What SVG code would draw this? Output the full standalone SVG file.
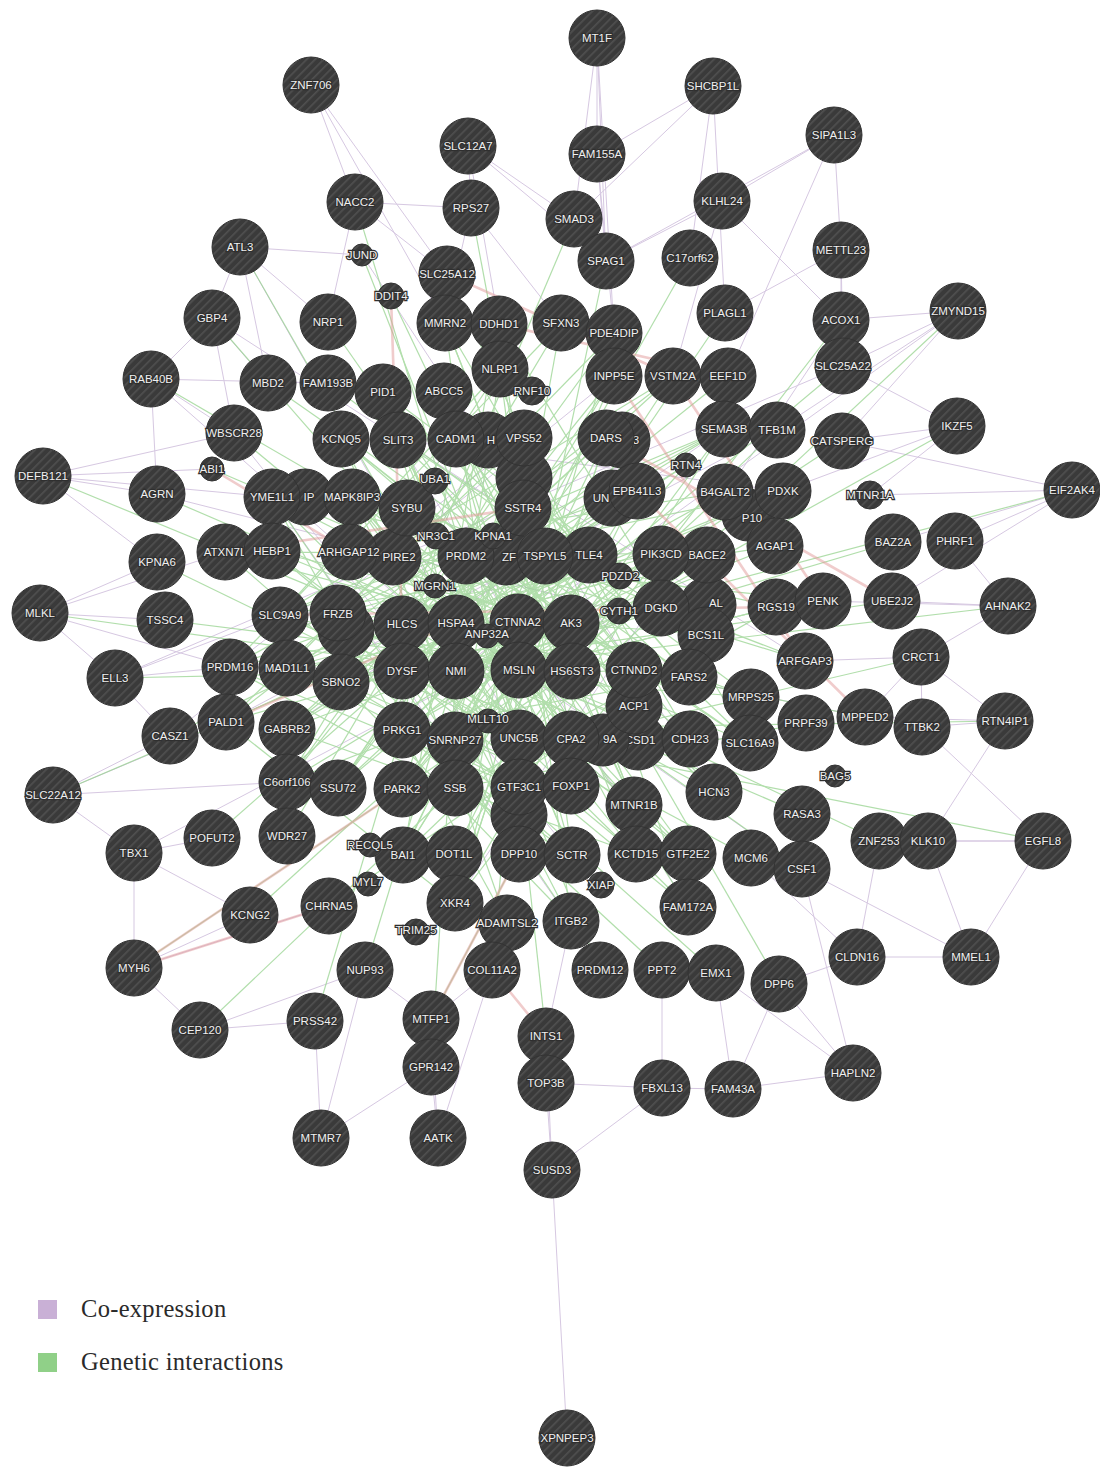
<svg xmlns="http://www.w3.org/2000/svg" width="1100" height="1467" viewBox="0 0 1100 1467">
<defs>
<pattern id="h" width="6" height="6" patternUnits="userSpaceOnUse" patternTransform="rotate(45)"><rect width="6" height="6" fill="#3a3a3a"/><rect width="1.6" height="6" fill="#505050"/></pattern>
<style>
.n circle{fill:url(#h);stroke:#333;stroke-width:1}
.n text{font-family:"Liberation Sans",Arial,sans-serif;font-size:11.5px;fill:#f0f0f0;stroke:#2f2f2f;stroke-width:2.4px;paint-order:stroke;text-anchor:middle;dominant-baseline:central}
.g{stroke:#98d490;stroke-width:1.2;opacity:.75}
.c{stroke:#c9b6d8;stroke-width:1;opacity:.75}
.r{stroke:#e39a9a;stroke-width:2.6;opacity:.5}
.lg{font-family:"Liberation Serif","Times New Roman",serif;font-size:24.5px;letter-spacing:.3px;fill:#2a2a2a}
</style>
</defs>
<rect width="1100" height="1467" fill="#fff"/>
<g id="connectors">
<g class="c">
<line x1="597" y1="38" x2="597" y2="154"/><line x1="597" y1="38" x2="574" y2="219"/><line x1="597" y1="38" x2="606" y2="261"/><line x1="597" y1="38" x2="614" y2="333"/>
<line x1="311" y1="85" x2="355" y2="202"/><line x1="311" y1="85" x2="447" y2="274"/><line x1="311" y1="85" x2="445" y2="323"/>
<line x1="713" y1="86" x2="574" y2="219"/><line x1="713" y1="86" x2="690" y2="258"/><line x1="713" y1="86" x2="597" y2="154"/><line x1="713" y1="86" x2="725" y2="313"/>
<line x1="834" y1="135" x2="722" y2="201"/><line x1="834" y1="135" x2="606" y2="261"/><line x1="834" y1="135" x2="728" y2="376"/><line x1="834" y1="135" x2="841" y2="250"/>
<line x1="468" y1="146" x2="471" y2="208"/><line x1="468" y1="146" x2="574" y2="219"/><line x1="468" y1="146" x2="606" y2="261"/><line x1="468" y1="146" x2="499" y2="324"/>
<line x1="597" y1="154" x2="606" y2="261"/><line x1="597" y1="154" x2="614" y2="333"/>
<line x1="355" y1="202" x2="471" y2="208"/><line x1="355" y1="202" x2="447" y2="274"/><line x1="355" y1="202" x2="328" y2="322"/>
<line x1="471" y1="208" x2="561" y2="323"/><line x1="471" y1="208" x2="445" y2="323"/>
<line x1="722" y1="201" x2="606" y2="261"/><line x1="722" y1="201" x2="673" y2="376"/><line x1="722" y1="201" x2="841" y2="320"/>
<line x1="240" y1="247" x2="362" y2="255"/><line x1="240" y1="247" x2="328" y2="322"/><line x1="240" y1="247" x2="212" y2="318"/><line x1="240" y1="247" x2="268" y2="383"/>
<line x1="841" y1="250" x2="841" y2="320"/><line x1="841" y1="250" x2="843" y2="366"/><line x1="841" y1="250" x2="725" y2="313"/>
<line x1="958" y1="311" x2="841" y2="320"/><line x1="958" y1="311" x2="843" y2="366"/><line x1="958" y1="311" x2="842" y2="441"/><line x1="958" y1="311" x2="777" y2="430"/>
<line x1="212" y1="318" x2="151" y2="379"/><line x1="212" y1="318" x2="268" y2="383"/><line x1="212" y1="318" x2="234" y2="433"/>
<line x1="151" y1="379" x2="234" y2="433"/><line x1="151" y1="379" x2="157" y2="494"/><line x1="151" y1="379" x2="328" y2="383"/>
<line x1="43" y1="476" x2="157" y2="494"/><line x1="43" y1="476" x2="212" y2="469"/><line x1="43" y1="476" x2="157" y2="562"/><line x1="43" y1="476" x2="234" y2="433"/><line x1="43" y1="476" x2="272" y2="497"/>
<line x1="957" y1="426" x2="843" y2="366"/><line x1="957" y1="426" x2="842" y2="441"/><line x1="957" y1="426" x2="870" y2="495"/><line x1="957" y1="426" x2="783" y2="491"/>
<line x1="1072" y1="490" x2="870" y2="495"/><line x1="1072" y1="490" x2="955" y2="541"/><line x1="1072" y1="490" x2="842" y2="441"/><line x1="1072" y1="490" x2="893" y2="542"/><line x1="1072" y1="490" x2="892" y2="601"/>
<line x1="40" y1="613" x2="157" y2="562"/><line x1="40" y1="613" x2="165" y2="620"/><line x1="40" y1="613" x2="225" y2="552"/><line x1="40" y1="613" x2="230" y2="667"/><line x1="40" y1="613" x2="115" y2="678"/>
<line x1="1008" y1="606" x2="892" y2="601"/><line x1="1008" y1="606" x2="955" y2="541"/><line x1="1008" y1="606" x2="921" y2="657"/><line x1="1008" y1="606" x2="823" y2="601"/>
<line x1="115" y1="678" x2="230" y2="667"/><line x1="115" y1="678" x2="170" y2="736"/><line x1="115" y1="678" x2="280" y2="615"/>
<line x1="921" y1="657" x2="865" y2="717"/><line x1="921" y1="657" x2="805" y2="661"/><line x1="921" y1="657" x2="922" y2="727"/>
<line x1="1005" y1="721" x2="922" y2="727"/><line x1="1005" y1="721" x2="865" y2="717"/><line x1="1005" y1="721" x2="921" y2="657"/><line x1="1005" y1="721" x2="928" y2="841"/>
<line x1="53" y1="795" x2="170" y2="736"/><line x1="53" y1="795" x2="134" y2="853"/><line x1="53" y1="795" x2="226" y2="722"/><line x1="53" y1="795" x2="287" y2="782"/>
<line x1="134" y1="853" x2="212" y2="838"/><line x1="134" y1="853" x2="250" y2="915"/><line x1="134" y1="853" x2="134" y2="968"/>
<line x1="1043" y1="841" x2="928" y2="841"/><line x1="1043" y1="841" x2="879" y2="841"/><line x1="1043" y1="841" x2="971" y2="957"/><line x1="1043" y1="841" x2="922" y2="727"/>
<line x1="134" y1="968" x2="250" y2="915"/><line x1="134" y1="968" x2="200" y2="1030"/><line x1="134" y1="968" x2="329" y2="906"/>
<line x1="971" y1="957" x2="857" y2="957"/><line x1="971" y1="957" x2="928" y2="841"/><line x1="971" y1="957" x2="802" y2="869"/>
<line x1="200" y1="1030" x2="315" y2="1021"/><line x1="200" y1="1030" x2="365" y2="970"/>
<line x1="857" y1="957" x2="779" y2="984"/><line x1="857" y1="957" x2="879" y2="841"/><line x1="857" y1="957" x2="751" y2="858"/>
<line x1="853" y1="1073" x2="779" y2="984"/><line x1="853" y1="1073" x2="733" y2="1089"/><line x1="853" y1="1073" x2="716" y2="973"/><line x1="853" y1="1073" x2="802" y2="869"/>
<line x1="321" y1="1138" x2="315" y2="1021"/><line x1="321" y1="1138" x2="431" y2="1067"/><line x1="321" y1="1138" x2="365" y2="970"/>
<line x1="438" y1="1138" x2="431" y2="1067"/><line x1="438" y1="1138" x2="431" y2="1019"/><line x1="438" y1="1138" x2="492" y2="970"/>
<line x1="552" y1="1170" x2="546" y2="1083"/><line x1="552" y1="1170" x2="546" y2="1036"/><line x1="552" y1="1170" x2="662" y2="1088"/><line x1="552" y1="1170" x2="567" y2="1438"/>
<line x1="662" y1="1088" x2="662" y2="970"/><line x1="662" y1="1088" x2="733" y2="1089"/><line x1="662" y1="1088" x2="546" y2="1083"/>
<line x1="733" y1="1089" x2="716" y2="973"/><line x1="733" y1="1089" x2="779" y2="984"/>
<line x1="546" y1="1083" x2="546" y2="1036"/><line x1="546" y1="1036" x2="571" y2="921"/><line x1="431" y1="1067" x2="431" y2="1019"/><line x1="431" y1="1019" x2="492" y2="970"/><line x1="431" y1="1019" x2="365" y2="970"/>
<line x1="398" y1="440" x2="783" y2="491"/><line x1="456" y1="439" x2="805" y2="661"/><line x1="524" y1="438" x2="230" y2="667"/><line x1="272" y1="497" x2="571" y2="921"/>
<line x1="350" y1="552" x2="802" y2="869"/><line x1="402" y1="624" x2="865" y2="717"/><line x1="456" y1="671" x2="958" y2="311"/><line x1="519" y1="738" x2="240" y2="247"/>
<line x1="571" y1="623" x2="134" y2="853"/><line x1="661" y1="608" x2="212" y2="318"/><line x1="287" y1="729" x2="724" y2="429"/><line x1="455" y1="903" x2="841" y2="320"/>
<line x1="688" y1="907" x2="398" y2="440"/><line x1="706" y1="633" x2="157" y2="494"/><line x1="634" y1="805" x2="151" y2="379"/><line x1="226" y1="722" x2="777" y2="430"/>
<line x1="170" y1="736" x2="614" y2="376"/><line x1="115" y1="678" x2="843" y2="366"/><line x1="714" y1="792" x2="362" y2="255"/><line x1="572" y1="855" x2="234" y2="433"/>
</g>
<g class="g">
<line x1="398" y1="440" x2="661" y2="608"/><line x1="456" y1="439" x2="402" y2="730"/><line x1="524" y1="438" x2="455" y2="740"/><line x1="606" y1="438" x2="287" y2="729"/>
<line x1="724" y1="429" x2="402" y2="624"/><line x1="341" y1="439" x2="690" y2="739"/><line x1="500" y1="369" x2="571" y2="921"/><line x1="444" y1="391" x2="634" y2="805"/>
<line x1="383" y1="392" x2="750" y2="743"/><line x1="614" y1="376" x2="338" y2="788"/><line x1="673" y1="376" x2="226" y2="722"/><line x1="445" y1="323" x2="519" y2="854"/>
<line x1="499" y1="324" x2="403" y2="855"/><line x1="561" y1="323" x2="287" y2="782"/><line x1="614" y1="333" x2="455" y2="903"/><line x1="272" y1="497" x2="776" y2="607"/>
<line x1="352" y1="497" x2="688" y2="854"/><line x1="407" y1="508" x2="805" y2="661"/><line x1="523" y1="508" x2="230" y2="667"/><line x1="637" y1="491" x2="280" y2="615"/>
<line x1="725" y1="492" x2="350" y2="552"/><line x1="783" y1="491" x2="466" y2="556"/><line x1="435" y1="479" x2="714" y2="792"/><line x1="686" y1="465" x2="341" y2="682"/>
<line x1="225" y1="552" x2="689" y2="677"/><line x1="272" y1="551" x2="636" y2="854"/><line x1="350" y1="552" x2="751" y2="697"/><line x1="466" y1="556" x2="571" y2="739"/>
<line x1="545" y1="556" x2="287" y2="668"/><line x1="589" y1="555" x2="402" y2="789"/><line x1="661" y1="554" x2="225" y2="552"/><line x1="707" y1="555" x2="456" y2="671"/>
<line x1="775" y1="546" x2="338" y2="614"/><line x1="280" y1="615" x2="724" y2="429"/><line x1="338" y1="614" x2="606" y2="438"/><line x1="402" y1="624" x2="673" y2="376"/>
<line x1="456" y1="623" x2="783" y2="491"/><line x1="518" y1="622" x2="272" y2="497"/><line x1="571" y1="623" x2="341" y2="439"/><line x1="661" y1="608" x2="403" y2="855"/>
<line x1="776" y1="607" x2="455" y2="788"/><line x1="706" y1="633" x2="383" y2="392"/><line x1="230" y1="667" x2="572" y2="855"/><line x1="287" y1="668" x2="614" y2="333"/>
<line x1="341" y1="682" x2="637" y2="491"/><line x1="402" y1="671" x2="725" y2="492"/><line x1="456" y1="671" x2="500" y2="369"/><line x1="519" y1="670" x2="280" y2="615"/>
<line x1="572" y1="671" x2="350" y2="552"/><line x1="634" y1="670" x2="398" y2="440"/><line x1="689" y1="677" x2="444" y2="391"/><line x1="805" y1="661" x2="466" y2="556"/>
<line x1="226" y1="722" x2="524" y2="438"/><line x1="287" y1="729" x2="571" y2="623"/><line x1="402" y1="730" x2="707" y2="555"/><line x1="455" y1="740" x2="614" y2="376"/>
<line x1="519" y1="738" x2="352" y2="497"/><line x1="571" y1="739" x2="407" y2="508"/><line x1="690" y1="739" x2="456" y2="439"/><line x1="750" y1="743" x2="272" y2="551"/>
<line x1="751" y1="697" x2="402" y2="671"/><line x1="287" y1="782" x2="661" y2="554"/><line x1="338" y1="788" x2="589" y2="555"/><line x1="402" y1="789" x2="686" y2="465"/>
<line x1="455" y1="788" x2="724" y2="429"/><line x1="519" y1="787" x2="341" y2="682"/><line x1="571" y1="786" x2="287" y2="668"/><line x1="634" y1="805" x2="445" y2="323"/>
<line x1="714" y1="792" x2="402" y2="624"/><line x1="403" y1="855" x2="545" y2="556"/><line x1="454" y1="854" x2="637" y2="491"/><line x1="519" y1="854" x2="341" y2="439"/>
<line x1="572" y1="855" x2="499" y2="324"/><line x1="636" y1="854" x2="352" y2="497"/><line x1="688" y1="854" x2="518" y2="622"/><line x1="455" y1="903" x2="606" y2="438"/>
<line x1="507" y1="923" x2="272" y2="497"/><line x1="571" y1="921" x2="402" y2="671"/><line x1="688" y1="907" x2="466" y2="556"/><line x1="234" y1="433" x2="519" y2="670"/>
<line x1="212" y1="469" x2="571" y2="623"/><line x1="157" y1="494" x2="456" y2="623"/><line x1="157" y1="562" x2="519" y2="738"/><line x1="165" y1="620" x2="572" y2="671"/>
<line x1="115" y1="678" x2="456" y2="671"/><line x1="170" y1="736" x2="402" y2="624"/><line x1="212" y1="838" x2="456" y2="623"/><line x1="287" y1="836" x2="524" y2="438"/>
<line x1="250" y1="915" x2="519" y2="670"/><line x1="329" y1="906" x2="571" y2="739"/><line x1="365" y1="970" x2="456" y2="671"/><line x1="492" y1="970" x2="519" y2="670"/>
<line x1="600" y1="970" x2="456" y2="623"/><line x1="662" y1="970" x2="402" y2="730"/><line x1="716" y1="973" x2="455" y2="740"/><line x1="779" y1="984" x2="571" y2="623"/>
<line x1="546" y1="1036" x2="519" y2="787"/><line x1="431" y1="1019" x2="519" y2="854"/><line x1="431" y1="1067" x2="456" y2="671"/><line x1="315" y1="1021" x2="402" y2="730"/>
<line x1="134" y1="968" x2="402" y2="789"/><line x1="200" y1="1030" x2="455" y2="788"/><line x1="802" y1="869" x2="456" y2="623"/><line x1="751" y1="858" x2="402" y2="671"/>
<line x1="879" y1="841" x2="519" y2="670"/><line x1="802" y1="814" x2="338" y2="614"/><line x1="865" y1="717" x2="402" y2="624"/><line x1="806" y1="723" x2="455" y2="788"/>
<line x1="921" y1="657" x2="571" y2="739"/><line x1="892" y1="601" x2="402" y2="671"/><line x1="823" y1="601" x2="350" y2="552"/><line x1="893" y1="542" x2="456" y2="671"/>
<line x1="842" y1="441" x2="402" y2="730"/><line x1="777" y1="430" x2="455" y2="740"/><line x1="841" y1="320" x2="519" y2="738"/><line x1="843" y1="366" x2="338" y2="788"/>
<line x1="728" y1="376" x2="287" y2="729"/><line x1="725" y1="313" x2="402" y2="789"/><line x1="690" y1="258" x2="456" y2="671"/><line x1="606" y1="261" x2="519" y2="670"/>
<line x1="574" y1="219" x2="402" y2="624"/><line x1="471" y1="208" x2="571" y2="739"/><line x1="447" y1="274" x2="634" y2="670"/><line x1="328" y1="322" x2="572" y2="671"/>
<line x1="268" y1="383" x2="689" y2="677"/><line x1="328" y1="383" x2="751" y2="697"/><line x1="355" y1="202" x2="519" y2="738"/><line x1="362" y1="255" x2="571" y2="786"/>
<line x1="391" y1="296" x2="634" y2="805"/><line x1="240" y1="247" x2="456" y2="623"/><line x1="212" y1="318" x2="519" y2="670"/><line x1="151" y1="379" x2="571" y2="623"/>
<line x1="43" y1="476" x2="402" y2="624"/><line x1="40" y1="613" x2="456" y2="671"/><line x1="1072" y1="490" x2="571" y2="623"/><line x1="1008" y1="606" x2="456" y2="671"/>
<line x1="957" y1="426" x2="519" y2="670"/><line x1="958" y1="311" x2="572" y2="671"/><line x1="1005" y1="721" x2="402" y2="730"/><line x1="53" y1="795" x2="456" y2="623"/>
<line x1="1043" y1="841" x2="519" y2="738"/><line x1="500" y1="369" x2="280" y2="615"/><line x1="561" y1="323" x2="455" y2="903"/><line x1="445" y1="323" x2="690" y2="739"/>
<line x1="383" y1="392" x2="572" y2="855"/><line x1="606" y1="438" x2="402" y2="855"/><line x1="524" y1="438" x2="688" y2="907"/><line x1="456" y1="439" x2="572" y2="855"/>
<line x1="341" y1="439" x2="519" y2="787"/><line x1="398" y1="440" x2="571" y2="786"/><line x1="456" y1="439" x2="634" y2="670"/><line x1="524" y1="438" x2="402" y2="789"/>
<line x1="606" y1="438" x2="455" y2="903"/><line x1="724" y1="429" x2="287" y2="668"/><line x1="500" y1="369" x2="338" y2="614"/><line x1="444" y1="391" x2="689" y2="677"/>
<line x1="383" y1="392" x2="519" y2="854"/><line x1="614" y1="376" x2="402" y2="730"/><line x1="673" y1="376" x2="280" y2="615"/><line x1="445" y1="323" x2="634" y2="805"/>
<line x1="499" y1="324" x2="750" y2="743"/><line x1="561" y1="323" x2="230" y2="667"/><line x1="614" y1="333" x2="287" y2="782"/><line x1="272" y1="497" x2="688" y2="907"/>
<line x1="352" y1="497" x2="571" y2="921"/><line x1="407" y1="508" x2="714" y2="792"/><line x1="523" y1="508" x2="338" y2="788"/><line x1="637" y1="491" x2="402" y2="671"/>
<line x1="725" y1="492" x2="455" y2="740"/><line x1="783" y1="491" x2="341" y2="682"/><line x1="435" y1="479" x2="636" y2="854"/><line x1="686" y1="465" x2="287" y2="729"/>
<line x1="225" y1="552" x2="572" y2="855"/><line x1="272" y1="551" x2="519" y2="738"/><line x1="350" y1="552" x2="689" y2="677"/><line x1="466" y1="556" x2="750" y2="743"/>
<line x1="545" y1="556" x2="338" y2="614"/><line x1="589" y1="555" x2="226" y2="722"/><line x1="661" y1="554" x2="402" y2="624"/><line x1="707" y1="555" x2="287" y2="668"/>
<line x1="775" y1="546" x2="456" y2="671"/><line x1="280" y1="615" x2="661" y2="554"/><line x1="338" y1="614" x2="724" y2="429"/><line x1="402" y1="624" x2="637" y2="491"/>
<line x1="456" y1="623" x2="707" y2="555"/><line x1="518" y1="622" x2="352" y2="497"/><line x1="571" y1="623" x2="272" y2="551"/><line x1="661" y1="608" x2="341" y2="682"/>
<line x1="776" y1="607" x2="519" y2="670"/><line x1="706" y1="633" x2="456" y2="439"/><line x1="230" y1="667" x2="545" y2="556"/><line x1="287" y1="668" x2="661" y2="608"/>
<line x1="341" y1="682" x2="571" y2="786"/><line x1="402" y1="671" x2="634" y2="805"/><line x1="456" y1="671" x2="688" y2="854"/><line x1="519" y1="670" x2="403" y2="855"/>
<line x1="572" y1="671" x2="287" y2="782"/><line x1="634" y1="670" x2="341" y2="439"/><line x1="689" y1="677" x2="402" y2="730"/><line x1="226" y1="722" x2="455" y2="903"/>
<line x1="287" y1="729" x2="636" y2="854"/><line x1="402" y1="730" x2="572" y2="855"/><line x1="455" y1="740" x2="707" y2="555"/><line x1="519" y1="738" x2="383" y2="392"/>
<line x1="571" y1="739" x2="280" y2="615"/><line x1="690" y1="739" x2="338" y2="614"/><line x1="750" y1="743" x2="407" y2="508"/><line x1="287" y1="782" x2="614" y2="376"/>
<line x1="338" y1="788" x2="606" y2="438"/><line x1="402" y1="789" x2="673" y2="376"/><line x1="455" y1="788" x2="637" y2="491"/><line x1="519" y1="787" x2="230" y2="667"/>
<line x1="571" y1="786" x2="456" y2="439"/><line x1="634" y1="805" x2="352" y2="497"/><line x1="714" y1="792" x2="466" y2="556"/><line x1="403" y1="855" x2="589" y2="555"/>
<line x1="454" y1="854" x2="724" y2="429"/><line x1="519" y1="854" x2="272" y2="497"/><line x1="572" y1="855" x2="398" y2="440"/><line x1="636" y1="854" x2="444" y2="391"/>
<line x1="688" y1="854" x2="350" y2="552"/><line x1="455" y1="903" x2="661" y2="554"/><line x1="507" y1="923" x2="402" y2="624"/><line x1="571" y1="921" x2="341" y2="682"/>
<line x1="688" y1="907" x2="402" y2="671"/><line x1="280" y1="615" x2="571" y2="739"/><line x1="338" y1="614" x2="519" y2="854"/><line x1="402" y1="624" x2="690" y2="739"/>
<line x1="456" y1="623" x2="338" y2="788"/><line x1="518" y1="622" x2="706" y2="633"/><line x1="571" y1="623" x2="226" y2="722"/><line x1="402" y1="671" x2="571" y2="623"/>
<line x1="456" y1="671" x2="661" y2="608"/><line x1="519" y1="670" x2="776" y2="607"/><line x1="572" y1="671" x2="402" y2="789"/><line x1="634" y1="670" x2="455" y2="903"/>
<line x1="287" y1="668" x2="519" y2="787"/><line x1="341" y1="682" x2="634" y2="670"/><line x1="230" y1="667" x2="456" y2="623"/><line x1="350" y1="552" x2="519" y2="670"/>
<line x1="466" y1="556" x2="402" y2="730"/><line x1="545" y1="556" x2="455" y2="788"/><line x1="589" y1="555" x2="287" y2="729"/><line x1="661" y1="554" x2="519" y2="738"/>
<line x1="407" y1="508" x2="571" y2="739"/><line x1="523" y1="508" x2="456" y2="671"/><line x1="637" y1="491" x2="402" y2="730"/>
</g>
<g class="r">
<line x1="606" y1="438" x2="892" y2="601"/><line x1="637" y1="491" x2="865" y2="717"/><line x1="673" y1="376" x2="823" y2="601"/><line x1="614" y1="376" x2="805" y2="661"/>
<line x1="391" y1="296" x2="402" y2="624"/><line x1="134" y1="968" x2="329" y2="906"/><line x1="134" y1="968" x2="402" y2="789"/><line x1="492" y1="970" x2="546" y2="1036"/>
<line x1="431" y1="1019" x2="519" y2="854"/><line x1="447" y1="274" x2="673" y2="376"/><line x1="499" y1="324" x2="728" y2="376"/><line x1="212" y1="469" x2="350" y2="552"/>
<line x1="226" y1="722" x2="456" y2="623"/><line x1="225" y1="552" x2="523" y2="508"/><line x1="280" y1="615" x2="776" y2="607"/>
</g>
</g>
<g id="nodes">
<g class="n" id="n-H"><circle cx="488" cy="440" r="28"/><text x="491" y="440">H</text></g>
<g class="n" id="n-X3"><circle cx="622" cy="440" r="28"/><text x="636" y="440">3</text></g>
<g class="n" id="n-hid1"><circle cx="524" cy="478" r="28"/></g>
<g class="n" id="n-UN"><circle cx="612" cy="498" r="28"/><text x="601" y="498">UN</text></g>
<g class="n" id="n-P10"><circle cx="748" cy="515" r="26"/><text x="752" y="518">P10</text></g>
<g class="n" id="n-IP"><circle cx="305" cy="497" r="28"/><text x="309" y="497">IP</text></g>
<g class="n" id="n-PIRE2"><circle cx="393" cy="557" r="28"/><text x="399" y="557">PIRE2</text></g>
<g class="n" id="n-ZF"><circle cx="506" cy="557" r="28"/><text x="509" y="557">ZF</text></g>
<g class="n" id="n-FRZB2"><circle cx="346" cy="630" r="28"/></g>
<g class="n" id="n-AL"><circle cx="708" cy="605" r="28"/><text x="716" y="603">AL</text></g>
<g class="n" id="n-CSD1"><circle cx="638" cy="742" r="28"/><text x="640" y="740">CSD1</text></g>
<g class="n" id="n-X9A"><circle cx="603" cy="740" r="26"/><text x="610" y="739">9A</text></g>
<g class="n" id="n-GTF3C1b"><circle cx="519" cy="815" r="28"/></g>
<g class="n" id="n-MT1F"><circle cx="597" cy="38" r="28"/><text x="597" y="38">MT1F</text></g>
<g class="n" id="n-ZNF706"><circle cx="311" cy="85" r="28"/><text x="311" y="85">ZNF706</text></g>
<g class="n" id="n-SHCBP1L"><circle cx="713" cy="86" r="28"/><text x="713" y="86">SHCBP1L</text></g>
<g class="n" id="n-SIPA1L3"><circle cx="834" cy="135" r="28"/><text x="834" y="135">SIPA1L3</text></g>
<g class="n" id="n-SLC12A7"><circle cx="468" cy="146" r="28"/><text x="468" y="146">SLC12A7</text></g>
<g class="n" id="n-FAM155A"><circle cx="597" cy="154" r="28"/><text x="597" y="154">FAM155A</text></g>
<g class="n" id="n-NACC2"><circle cx="355" cy="202" r="28"/><text x="355" y="202">NACC2</text></g>
<g class="n" id="n-RPS27"><circle cx="471" cy="208" r="28"/><text x="471" y="208">RPS27</text></g>
<g class="n" id="n-SMAD3"><circle cx="574" cy="219" r="28"/><text x="574" y="219">SMAD3</text></g>
<g class="n" id="n-KLHL24"><circle cx="722" cy="201" r="28"/><text x="722" y="201">KLHL24</text></g>
<g class="n" id="n-ATL3"><circle cx="240" cy="247" r="28"/><text x="240" y="247">ATL3</text></g>
<g class="n" id="n-SPAG1"><circle cx="606" cy="261" r="28"/><text x="606" y="261">SPAG1</text></g>
<g class="n" id="n-C17orf62"><circle cx="690" cy="258" r="28"/><text x="690" y="258">C17orf62</text></g>
<g class="n" id="n-METTL23"><circle cx="841" cy="250" r="28"/><text x="841" y="250">METTL23</text></g>
<g class="n" id="n-SLC25A12"><circle cx="447" cy="274" r="28"/><text x="447" y="274">SLC25A12</text></g>
<g class="n" id="n-GBP4"><circle cx="212" cy="318" r="28"/><text x="212" y="318">GBP4</text></g>
<g class="n" id="n-NRP1"><circle cx="328" cy="322" r="28"/><text x="328" y="322">NRP1</text></g>
<g class="n" id="n-MMRN2"><circle cx="445" cy="323" r="28"/><text x="445" y="323">MMRN2</text></g>
<g class="n" id="n-DDHD1"><circle cx="499" cy="324" r="28"/><text x="499" y="324">DDHD1</text></g>
<g class="n" id="n-SFXN3"><circle cx="561" cy="323" r="28"/><text x="561" y="323">SFXN3</text></g>
<g class="n" id="n-PDE4DIP"><circle cx="614" cy="333" r="28"/><text x="614" y="333">PDE4DIP</text></g>
<g class="n" id="n-PLAGL1"><circle cx="725" cy="313" r="28"/><text x="725" y="313">PLAGL1</text></g>
<g class="n" id="n-ACOX1"><circle cx="841" cy="320" r="28"/><text x="841" y="320">ACOX1</text></g>
<g class="n" id="n-ZMYND15"><circle cx="958" cy="311" r="28"/><text x="958" y="311">ZMYND15</text></g>
<g class="n" id="n-NLRP1"><circle cx="500" cy="369" r="28"/><text x="500" y="369">NLRP1</text></g>
<g class="n" id="n-INPP5E"><circle cx="614" cy="376" r="28"/><text x="614" y="376">INPP5E</text></g>
<g class="n" id="n-VSTM2A"><circle cx="673" cy="376" r="28"/><text x="673" y="376">VSTM2A</text></g>
<g class="n" id="n-EEF1D"><circle cx="728" cy="376" r="28"/><text x="728" y="376">EEF1D</text></g>
<g class="n" id="n-SLC25A22"><circle cx="843" cy="366" r="28"/><text x="843" y="366">SLC25A22</text></g>
<g class="n" id="n-RAB40B"><circle cx="151" cy="379" r="28"/><text x="151" y="379">RAB40B</text></g>
<g class="n" id="n-MBD2"><circle cx="268" cy="383" r="28"/><text x="268" y="383">MBD2</text></g>
<g class="n" id="n-FAM193B"><circle cx="328" cy="383" r="28"/><text x="328" y="383">FAM193B</text></g>
<g class="n" id="n-PID1"><circle cx="383" cy="392" r="28"/><text x="383" y="392">PID1</text></g>
<g class="n" id="n-ABCC5"><circle cx="444" cy="391" r="28"/><text x="444" y="391">ABCC5</text></g>
<g class="n" id="n-WBSCR28"><circle cx="234" cy="433" r="28"/><text x="234" y="433">WBSCR28</text></g>
<g class="n" id="n-KCNQ5"><circle cx="341" cy="439" r="28"/><text x="341" y="439">KCNQ5</text></g>
<g class="n" id="n-SLIT3"><circle cx="398" cy="440" r="28"/><text x="398" y="440">SLIT3</text></g>
<g class="n" id="n-CADM1"><circle cx="456" cy="439" r="28"/><text x="456" y="439">CADM1</text></g>
<g class="n" id="n-VPS52"><circle cx="524" cy="438" r="28"/><text x="524" y="438">VPS52</text></g>
<g class="n" id="n-DARS"><circle cx="606" cy="438" r="28"/><text x="606" y="438">DARS</text></g>
<g class="n" id="n-SEMA3B"><circle cx="724" cy="429" r="28"/><text x="724" y="429">SEMA3B</text></g>
<g class="n" id="n-TFB1M"><circle cx="777" cy="430" r="28"/><text x="777" y="430">TFB1M</text></g>
<g class="n" id="n-CATSPERG"><circle cx="842" cy="441" r="28"/><text x="842" y="441">CATSPERG</text></g>
<g class="n" id="n-IKZF5"><circle cx="957" cy="426" r="28"/><text x="957" y="426">IKZF5</text></g>
<g class="n" id="n-DEFB121"><circle cx="43" cy="476" r="28"/><text x="43" y="476">DEFB121</text></g>
<g class="n" id="n-SSTR4"><circle cx="523" cy="508" r="28"/><text x="523" y="508">SSTR4</text></g>
<g class="n" id="n-EPB41L3"><circle cx="637" cy="491" r="28"/><text x="637" y="491">EPB41L3</text></g>
<g class="n" id="n-B4GALT2"><circle cx="725" cy="492" r="28"/><text x="725" y="492">B4GALT2</text></g>
<g class="n" id="n-PDXK"><circle cx="783" cy="491" r="28"/><text x="783" y="491">PDXK</text></g>
<g class="n" id="n-EIF2AK4"><circle cx="1072" cy="490" r="28"/><text x="1072" y="490">EIF2AK4</text></g>
<g class="n" id="n-AGRN"><circle cx="157" cy="494" r="28"/><text x="157" y="494">AGRN</text></g>
<g class="n" id="n-YME1L1"><circle cx="272" cy="497" r="28"/><text x="272" y="497">YME1L1</text></g>
<g class="n" id="n-MAPK8IP3"><circle cx="352" cy="497" r="28"/><text x="352" y="497">MAPK8IP3</text></g>
<g class="n" id="n-SYBU"><circle cx="407" cy="508" r="28"/><text x="407" y="508">SYBU</text></g>
<g class="n" id="n-BAZ2A"><circle cx="893" cy="542" r="28"/><text x="893" y="542">BAZ2A</text></g>
<g class="n" id="n-PHRF1"><circle cx="955" cy="541" r="28"/><text x="955" y="541">PHRF1</text></g>
<g class="n" id="n-KPNA6"><circle cx="157" cy="562" r="28"/><text x="157" y="562">KPNA6</text></g>
<g class="n" id="n-ATXN7L"><circle cx="225" cy="552" r="28"/><text x="225" y="552">ATXN7L</text></g>
<g class="n" id="n-HEBP1"><circle cx="272" cy="551" r="28"/><text x="272" y="551">HEBP1</text></g>
<g class="n" id="n-ARHGAP12"><circle cx="349" cy="552" r="28"/><text x="349" y="552">ARHGAP12</text></g>
<g class="n" id="n-PRDM2"><circle cx="466" cy="556" r="28"/><text x="466" y="556">PRDM2</text></g>
<g class="n" id="n-TLE4"><circle cx="589" cy="555" r="28"/><text x="589" y="555">TLE4</text></g>
<g class="n" id="n-TSPYL5"><circle cx="545" cy="556" r="28"/><text x="545" y="556">TSPYL5</text></g>
<g class="n" id="n-BACE2"><circle cx="707" cy="555" r="28"/><text x="707" y="555">BACE2</text></g>
<g class="n" id="n-PIK3CD"><circle cx="661" cy="554" r="28"/><text x="661" y="554">PIK3CD</text></g>
<g class="n" id="n-AGAP1"><circle cx="775" cy="546" r="28"/><text x="775" y="546">AGAP1</text></g>
<g class="n" id="n-MLKL"><circle cx="40" cy="613" r="28"/><text x="40" y="613">MLKL</text></g>
<g class="n" id="n-TSSC4"><circle cx="165" cy="620" r="28"/><text x="165" y="620">TSSC4</text></g>
<g class="n" id="n-SLC9A9"><circle cx="280" cy="615" r="28"/><text x="280" y="615">SLC9A9</text></g>
<g class="n" id="n-FRZB"><circle cx="338" cy="613" r="28"/><text x="338" y="614">FRZB</text></g>
<g class="n" id="n-HLCS"><circle cx="402" cy="624" r="28"/><text x="402" y="624">HLCS</text></g>
<g class="n" id="n-HSPA4"><circle cx="456" cy="623" r="28"/><text x="456" y="623">HSPA4</text></g>
<g class="n" id="n-CTNNA2"><circle cx="518" cy="622" r="28"/><text x="518" y="622">CTNNA2</text></g>
<g class="n" id="n-AK3"><circle cx="571" cy="623" r="28"/><text x="571" y="623">AK3</text></g>
<g class="n" id="n-DGKD"><circle cx="661" cy="608" r="28"/><text x="661" y="608">DGKD</text></g>
<g class="n" id="n-BCS1L"><circle cx="706" cy="635" r="28"/><text x="706" y="635">BCS1L</text></g>
<g class="n" id="n-RGS19"><circle cx="776" cy="607" r="28"/><text x="776" y="607">RGS19</text></g>
<g class="n" id="n-PENK"><circle cx="823" cy="601" r="28"/><text x="823" y="601">PENK</text></g>
<g class="n" id="n-UBE2J2"><circle cx="892" cy="601" r="28"/><text x="892" y="601">UBE2J2</text></g>
<g class="n" id="n-AHNAK2"><circle cx="1008" cy="606" r="28"/><text x="1008" y="606">AHNAK2</text></g>
<g class="n" id="n-ELL3"><circle cx="115" cy="678" r="28"/><text x="115" y="678">ELL3</text></g>
<g class="n" id="n-PRDM16"><circle cx="230" cy="667" r="28"/><text x="230" y="667">PRDM16</text></g>
<g class="n" id="n-MAD1L1"><circle cx="287" cy="668" r="28"/><text x="287" y="668">MAD1L1</text></g>
<g class="n" id="n-SBNO2"><circle cx="341" cy="682" r="28"/><text x="341" y="682">SBNO2</text></g>
<g class="n" id="n-DYSF"><circle cx="402" cy="671" r="28"/><text x="402" y="671">DYSF</text></g>
<g class="n" id="n-NMI"><circle cx="456" cy="671" r="28"/><text x="456" y="671">NMI</text></g>
<g class="n" id="n-MSLN"><circle cx="519" cy="670" r="28"/><text x="519" y="670">MSLN</text></g>
<g class="n" id="n-HS6ST3"><circle cx="572" cy="671" r="28"/><text x="572" y="671">HS6ST3</text></g>
<g class="n" id="n-ACP1"><circle cx="634" cy="706" r="28"/><text x="634" y="706">ACP1</text></g>
<g class="n" id="n-CTNND2"><circle cx="634" cy="670" r="28"/><text x="634" y="670">CTNND2</text></g>
<g class="n" id="n-FARS2"><circle cx="689" cy="677" r="28"/><text x="689" y="677">FARS2</text></g>
<g class="n" id="n-ARFGAP3"><circle cx="805" cy="661" r="28"/><text x="805" y="661">ARFGAP3</text></g>
<g class="n" id="n-CRCT1"><circle cx="921" cy="657" r="28"/><text x="921" y="657">CRCT1</text></g>
<g class="n" id="n-MRPS25"><circle cx="751" cy="697" r="28"/><text x="751" y="697">MRPS25</text></g>
<g class="n" id="n-CASZ1"><circle cx="170" cy="736" r="28"/><text x="170" y="736">CASZ1</text></g>
<g class="n" id="n-PALD1"><circle cx="226" cy="722" r="28"/><text x="226" y="722">PALD1</text></g>
<g class="n" id="n-GABRB2"><circle cx="287" cy="729" r="28"/><text x="287" y="729">GABRB2</text></g>
<g class="n" id="n-PRKG1"><circle cx="402" cy="730" r="28"/><text x="402" y="730">PRKG1</text></g>
<g class="n" id="n-SNRNP27"><circle cx="455" cy="740" r="28"/><text x="455" y="740">SNRNP27</text></g>
<g class="n" id="n-UNC5B"><circle cx="519" cy="738" r="28"/><text x="519" y="738">UNC5B</text></g>
<g class="n" id="n-CPA2"><circle cx="571" cy="739" r="28"/><text x="571" y="739">CPA2</text></g>
<g class="n" id="n-CDH23"><circle cx="690" cy="739" r="28"/><text x="690" y="739">CDH23</text></g>
<g class="n" id="n-SLC16A9"><circle cx="750" cy="743" r="28"/><text x="750" y="743">SLC16A9</text></g>
<g class="n" id="n-PRPF39"><circle cx="806" cy="723" r="28"/><text x="806" y="723">PRPF39</text></g>
<g class="n" id="n-MPPED2"><circle cx="865" cy="717" r="28"/><text x="865" y="717">MPPED2</text></g>
<g class="n" id="n-TTBK2"><circle cx="922" cy="727" r="28"/><text x="922" y="727">TTBK2</text></g>
<g class="n" id="n-RTN4IP1"><circle cx="1005" cy="721" r="28"/><text x="1005" y="721">RTN4IP1</text></g>
<g class="n" id="n-SLC22A12"><circle cx="53" cy="795" r="28"/><text x="53" y="795">SLC22A12</text></g>
<g class="n" id="n-C6orf106"><circle cx="287" cy="782" r="28"/><text x="287" y="782">C6orf106</text></g>
<g class="n" id="n-SSU72"><circle cx="338" cy="788" r="28"/><text x="338" y="788">SSU72</text></g>
<g class="n" id="n-PARK2"><circle cx="402" cy="789" r="28"/><text x="402" y="789">PARK2</text></g>
<g class="n" id="n-SSB"><circle cx="455" cy="788" r="28"/><text x="455" y="788">SSB</text></g>
<g class="n" id="n-GTF3C1"><circle cx="519" cy="787" r="28"/><text x="519" y="787">GTF3C1</text></g>
<g class="n" id="n-FOXP1"><circle cx="571" cy="786" r="28"/><text x="571" y="786">FOXP1</text></g>
<g class="n" id="n-MTNR1B"><circle cx="634" cy="805" r="28"/><text x="634" y="805">MTNR1B</text></g>
<g class="n" id="n-HCN3"><circle cx="714" cy="792" r="28"/><text x="714" y="792">HCN3</text></g>
<g class="n" id="n-RASA3"><circle cx="802" cy="814" r="28"/><text x="802" y="814">RASA3</text></g>
<g class="n" id="n-TBX1"><circle cx="134" cy="853" r="28"/><text x="134" y="853">TBX1</text></g>
<g class="n" id="n-POFUT2"><circle cx="212" cy="838" r="28"/><text x="212" y="838">POFUT2</text></g>
<g class="n" id="n-WDR27"><circle cx="287" cy="836" r="28"/><text x="287" y="836">WDR27</text></g>
<g class="n" id="n-BAI1"><circle cx="403" cy="855" r="28"/><text x="403" y="855">BAI1</text></g>
<g class="n" id="n-DOT1L"><circle cx="454" cy="854" r="28"/><text x="454" y="854">DOT1L</text></g>
<g class="n" id="n-DPP10"><circle cx="519" cy="854" r="28"/><text x="519" y="854">DPP10</text></g>
<g class="n" id="n-SCTR"><circle cx="572" cy="855" r="28"/><text x="572" y="855">SCTR</text></g>
<g class="n" id="n-KCTD15"><circle cx="636" cy="854" r="28"/><text x="636" y="854">KCTD15</text></g>
<g class="n" id="n-GTF2E2"><circle cx="688" cy="854" r="28"/><text x="688" y="854">GTF2E2</text></g>
<g class="n" id="n-MCM6"><circle cx="751" cy="858" r="28"/><text x="751" y="858">MCM6</text></g>
<g class="n" id="n-CSF1"><circle cx="802" cy="869" r="28"/><text x="802" y="869">CSF1</text></g>
<g class="n" id="n-ZNF253"><circle cx="879" cy="841" r="28"/><text x="879" y="841">ZNF253</text></g>
<g class="n" id="n-KLK10"><circle cx="928" cy="841" r="28"/><text x="928" y="841">KLK10</text></g>
<g class="n" id="n-EGFL8"><circle cx="1043" cy="841" r="28"/><text x="1043" y="841">EGFL8</text></g>
<g class="n" id="n-KCNG2"><circle cx="250" cy="915" r="28"/><text x="250" y="915">KCNG2</text></g>
<g class="n" id="n-CHRNA5"><circle cx="329" cy="906" r="28"/><text x="329" y="906">CHRNA5</text></g>
<g class="n" id="n-XKR4"><circle cx="455" cy="903" r="28"/><text x="455" y="903">XKR4</text></g>
<g class="n" id="n-ITGB2"><circle cx="571" cy="921" r="28"/><text x="571" y="921">ITGB2</text></g>
<g class="n" id="n-ADAMTSL2"><circle cx="507" cy="923" r="28"/><text x="507" y="923">ADAMTSL2</text></g>
<g class="n" id="n-FAM172A"><circle cx="688" cy="907" r="28"/><text x="688" y="907">FAM172A</text></g>
<g class="n" id="n-CLDN16"><circle cx="857" cy="957" r="28"/><text x="857" y="957">CLDN16</text></g>
<g class="n" id="n-MMEL1"><circle cx="971" cy="957" r="28"/><text x="971" y="957">MMEL1</text></g>
<g class="n" id="n-MYH6"><circle cx="134" cy="968" r="28"/><text x="134" y="968">MYH6</text></g>
<g class="n" id="n-NUP93"><circle cx="365" cy="970" r="28"/><text x="365" y="970">NUP93</text></g>
<g class="n" id="n-COL11A2"><circle cx="492" cy="970" r="28"/><text x="492" y="970">COL11A2</text></g>
<g class="n" id="n-PRDM12"><circle cx="600" cy="970" r="28"/><text x="600" y="970">PRDM12</text></g>
<g class="n" id="n-PPT2"><circle cx="662" cy="970" r="28"/><text x="662" y="970">PPT2</text></g>
<g class="n" id="n-EMX1"><circle cx="716" cy="973" r="28"/><text x="716" y="973">EMX1</text></g>
<g class="n" id="n-DPP6"><circle cx="779" cy="984" r="28"/><text x="779" y="984">DPP6</text></g>
<g class="n" id="n-CEP120"><circle cx="200" cy="1030" r="28"/><text x="200" y="1030">CEP120</text></g>
<g class="n" id="n-PRSS42"><circle cx="315" cy="1021" r="28"/><text x="315" y="1021">PRSS42</text></g>
<g class="n" id="n-MTFP1"><circle cx="431" cy="1019" r="28"/><text x="431" y="1019">MTFP1</text></g>
<g class="n" id="n-INTS1"><circle cx="546" cy="1036" r="28"/><text x="546" y="1036">INTS1</text></g>
<g class="n" id="n-GPR142"><circle cx="431" cy="1067" r="28"/><text x="431" y="1067">GPR142</text></g>
<g class="n" id="n-TOP3B"><circle cx="546" cy="1083" r="28"/><text x="546" y="1083">TOP3B</text></g>
<g class="n" id="n-FBXL13"><circle cx="662" cy="1088" r="28"/><text x="662" y="1088">FBXL13</text></g>
<g class="n" id="n-FAM43A"><circle cx="733" cy="1089" r="28"/><text x="733" y="1089">FAM43A</text></g>
<g class="n" id="n-HAPLN2"><circle cx="853" cy="1073" r="28"/><text x="853" y="1073">HAPLN2</text></g>
<g class="n" id="n-MTMR7"><circle cx="321" cy="1138" r="28"/><text x="321" y="1138">MTMR7</text></g>
<g class="n" id="n-AATK"><circle cx="438" cy="1138" r="28"/><text x="438" y="1138">AATK</text></g>
<g class="n" id="n-SUSD3"><circle cx="552" cy="1170" r="28"/><text x="552" y="1170">SUSD3</text></g>
<g class="n" id="n-XPNPEP3"><circle cx="567" cy="1438" r="28"/><text x="567" y="1438">XPNPEP3</text></g>
<g class="n" id="n-JUND"><circle cx="362" cy="255" r="11"/><text x="362" y="255">JUND</text></g>
<g class="n" id="n-DDIT4"><circle cx="391" cy="296" r="13"/><text x="391" y="296">DDIT4</text></g>
<g class="n" id="n-RNF10"><circle cx="532" cy="391" r="14"/><text x="532" y="391">RNF10</text></g>
<g class="n" id="n-ABI1"><circle cx="212" cy="469" r="12"/><text x="212" y="469">ABI1</text></g>
<g class="n" id="n-UBA1"><circle cx="435" cy="481" r="13"/><text x="435" y="479">UBA1</text></g>
<g class="n" id="n-RTN4"><circle cx="686" cy="465" r="12"/><text x="686" y="465">RTN4</text></g>
<g class="n" id="n-MTNR1A"><circle cx="870" cy="495" r="14"/><text x="870" y="495">MTNR1A</text></g>
<g class="n" id="n-NR3C1"><circle cx="436" cy="536" r="13"/><text x="436" y="536">NR3C1</text></g>
<g class="n" id="n-KPNA1"><circle cx="493" cy="536" r="13"/><text x="493" y="536">KPNA1</text></g>
<g class="n" id="n-PDZD2"><circle cx="620" cy="576" r="13"/><text x="620" y="576">PDZD2</text></g>
<g class="n" id="n-MGRN1"><circle cx="435" cy="586" r="12"/><text x="435" y="586">MGRN1</text></g>
<g class="n" id="n-ANP32A"><circle cx="487" cy="636" r="12"/><text x="487" y="634">ANP32A</text></g>
<g class="n" id="n-CYTH1"><circle cx="619" cy="611" r="13"/><text x="619" y="611">CYTH1</text></g>
<g class="n" id="n-MLLT10"><circle cx="488" cy="721" r="12"/><text x="488" y="719">MLLT10</text></g>
<g class="n" id="n-BAG5"><circle cx="835" cy="776" r="11"/><text x="835" y="776">BAG5</text></g>
<g class="n" id="n-RECQL5"><circle cx="370" cy="845" r="12"/><text x="370" y="845">RECQL5</text></g>
<g class="n" id="n-MYL7"><circle cx="368" cy="884" r="12"/><text x="368" y="882">MYL7</text></g>
<g class="n" id="n-XIAP"><circle cx="601" cy="885" r="13"/><text x="601" y="885">XIAP</text></g>
<g class="n" id="n-TRIM25"><circle cx="416" cy="932" r="13"/><text x="416" y="930">TRIM25</text></g>
</g>
<g id="legend">
<rect x="38" y="1300" width="19" height="19" fill="#c9b0d6"/>
<text class="lg" x="81" y="1317">Co-expression</text>
<rect x="38" y="1353" width="19" height="19" fill="#90d088"/>
<text class="lg" x="81" y="1370">Genetic interactions</text>
</g>
</svg>
